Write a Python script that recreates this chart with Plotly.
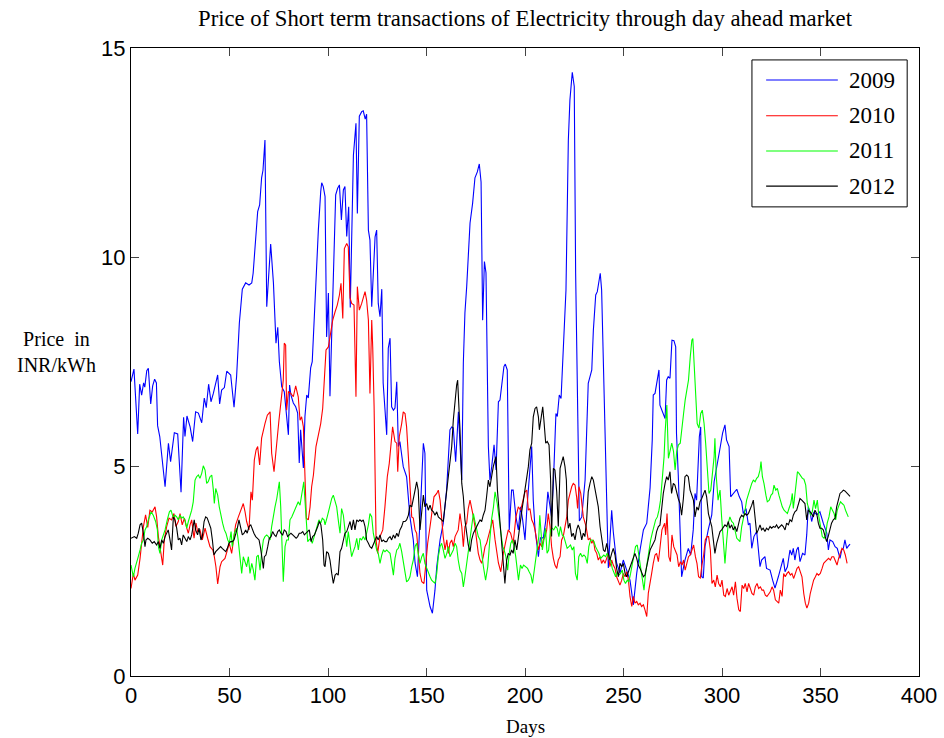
import plotly.graph_objects as go

# Day-ahead market price (INR/kWh) by day of year, one series per year
days_2009 = [0, 1.5, 3.4, 4.4, 5.4, 6.4, 7, 8, 8.8, 10, 11, 12, 12.9, 13.5, 14.6, 15.6, 16.9, 17.3, 19, 20.1,
             22, 23.7, 25.4, 26.7, 27.4, 28.4, 30, 31.3, 32.8, 34.2, 35.9, 37.2, 38.2, 39.4, 40.6, 41.8, 44, 45, 46, 47.4,
             48.6, 50.6, 52.3, 53.6, 55, 56.5, 58.2, 59.9, 61.3, 62, 64.3, 65.3, 66.3, 67, 68, 68.9, 70.9, 72.3, 73.6, 74.5,
             75.3, 76.5, 77.8, 78.7, 79.9, 80.5, 81.2, 82.4, 83.6, 84.6, 85.4, 86.1, 87.5, 88.3, 89.2, 90, 91.2, 92, 93.4, 95.1,
             96.3, 96.8, 97.6, 98.5, 99.3, 100.2, 101, 102.7, 103.9, 104.9, 105.8, 106.8, 107.8, 108.6, 109.5, 110.5, 111.3, 112.9, 114.2, 114.9,
             115.9, 117.1, 117.9, 118.9, 119.6, 120.5, 121.3, 122.2, 123.9, 124.7, 125.5, 126.4, 127.3, 128, 128.9, 129.8, 130.6, 131.5, 132.3, 133.2,
             134, 134.9, 135.7, 136.5, 138.2, 139.9, 141.6, 142.5, 143.3, 144.2, 145.4, 148.4, 149.2, 150.1, 151.8, 153, 154.3, 155.2, 156.9, 158.5,
             160.2, 161.9, 162.8, 163.6, 164.8, 166.2, 167, 167.9, 168.7, 169.5, 170.4, 172.1, 173.4, 174.6, 175.8, 176.8, 177.7, 178.5, 179.4, 180.2,
             181.4, 182.2, 183.1, 184.3, 185.3, 186.5, 187.3, 188.2, 189.3, 190, 191, 192, 193.2, 194, 195.4, 196.6, 197.8, 198.8, 200, 200.9,
             202.5, 203.4, 204.2, 205.1, 206.8, 207.8, 209.3, 210.5, 211.6, 212.7, 213.5, 214.4, 215, 215.7, 216.4, 217.4, 218.3, 219.5, 220.8, 222,
             222.8, 224, 225, 225.7, 227, 227.6, 228.8, 230.5, 232.1, 233.9, 234.7, 235.9, 236.7, 237.7, 238.2, 238.9, 239.8, 240.6, 241.5, 242.3,
             244, 244.8, 246.5, 248.2, 249.9, 251.6, 253.3, 255, 255.8, 256.7, 258.4, 260.1, 261.8, 263.5, 264.6, 265.1, 266, 266.8, 268, 268.5,
             269.9, 271.1, 271.9, 272.7, 273.6, 274.6, 275.6, 276.5, 276.9, 277.8, 279.5, 281.2, 282.9, 284.1, 285.4, 286.3, 287.1, 288, 288.5, 289.2,
             289.7, 290.5, 291.4, 293, 294.8, 296, 297.3, 299, 300.3, 301.5, 302.3, 303.6, 304.4, 305.8, 307.5, 308.8, 310, 310.8, 312.2, 313.4,
             314.2, 315.1, 316.2, 317.6, 318.4, 319.3, 320.1, 321.8, 322.6, 324.4, 325.7, 326.9, 328.6, 329.8, 331.1, 332, 333.2, 334.5, 335.4, 336.2,
             337, 337.9, 338.7, 339.6, 340.9, 342.1, 343, 343.8, 344.7, 345.5, 346.7, 348.1, 349.7, 351.4, 353.2, 354, 354.8, 356.2, 357.4, 358.5,
             359.9, 360.8, 361.6, 362.4, 363.3, 364.1, 365]
price_2009 = [7.03, 7.33, 5.78, 6.97, 6.71, 7.0, 6.9, 7.29, 7.35, 6.5, 6.93, 7.09, 7.0, 5.98, 5.72, 5.24, 4.7, 4.52, 5.56, 5.12,
              5.81, 5.78, 4.39, 6.18, 5.72, 6.21, 5.95, 5.6, 6.31, 6.28, 6.05, 6.64, 6.41, 6.97, 6.55, 6.75, 7.19, 6.5, 6.83, 6.89,
              7.28, 7.19, 6.42, 7.15, 8.43, 9.24, 9.39, 9.34, 9.39, 9.62, 11.09, 11.25, 11.9, 12.08, 12.8, 8.82, 10.32, 9.39, 7.95, 8.33,
              7.51, 6.91, 6.79, 6.31, 5.76, 6.95, 6.71, 6.52, 6.43, 6.28, 5.09, 5.88, 4.97, 6.2, 6.71, 6.64, 7.36, 7.51, 9.1, 10.65,
              11.57, 11.78, 11.69, 11.45, 8.1, 9.15, 6.68, 9.3, 11.49, 11.65, 11.73, 10.89, 11.61, 11.69, 10.5, 11.21, 8.8, 12.44, 13.2, 11.05,
              13.37, 13.48, 13.5, 13.3, 13.42, 10.65, 10.41, 8.82, 10.49, 10.65, 8.9, 8.58, 9.24, 7.0, 6.43, 5.76, 7.83, 8.07, 6.43, 6.35,
              6.4, 7.03, 5.48, 5.6, 5.0, 4.76, 3.8, 3.49, 3.25, 2.7, 2.37, 5.56, 5.32, 2.05, 1.66, 1.5, 2.05, 2.61, 3.25, 3.65,
              4.44, 5.88, 5.95, 5.93, 5.12, 6.31, 5.48, 4.68, 7.48, 8.67, 9.3, 10.82, 11.29, 11.9, 12.04, 12.23, 11.8, 8.5, 9.9, 9.63,
              5.48, 4.68, 5.0, 5.52, 4.92, 6.55, 6.59, 6.91, 7.39, 7.45, 7.31, 3.49, 4.44, 4.44, 3.8, 3.49, 4.04, 3.73, 3.25, 3.96,
              4.84, 5.48, 4.2, 3.5, 2.85, 3.3, 3.3, 3.7, 4.4, 4.0, 3.8, 4.6, 5.4, 6.27, 6.2, 6.71, 6.63, 7.86, 9.22, 12.8,
              13.76, 14.42, 14.08, 9.63, 4.68, 3.7, 3.8, 4.68, 6.99, 7.31, 8.26, 9.1, 9.18, 9.46, 9.62, 9.22, 7.47, 5.88, 4.68, 2.58,
              3.96, 3.45, 2.7, 2.46, 2.77, 2.53, 2.29, 1.7, 2.13, 2.45, 3.01, 3.49, 3.65, 4.5, 5.64, 6.71, 6.75, 6.99, 7.31, 6.47,
              6.27, 6.15, 7.07, 7.15, 7.11, 8.02, 8.01, 7.86, 5.8, 4.8, 2.37, 2.77, 3.05, 2.89, 3.49, 4.36, 4.2, 5.16, 5.72, 5.95,
              2.37, 2.34, 3.1, 3.49, 3.85, 4.64, 4.96, 5.44, 5.8, 6.0, 5.64, 5.48, 4.28, 4.36, 4.46, 4.28, 4.16, 3.88, 4.0, 3.61,
              3.65, 3.05, 3.33, 3.45, 3.09, 2.61, 2.77, 2.85, 2.57, 2.53, 2.29, 2.1, 2.37, 2.61, 2.81, 2.49, 2.61, 3.01, 2.89, 3.05,
              2.77, 3.01, 3.08, 2.73, 2.93, 2.89, 3.37, 4.04, 3.92, 3.69, 3.92, 3.85, 3.92, 3.65, 3.41, 3.01, 3.25, 3.21, 3.09, 3.05,
              2.81, 3.01, 3.05, 3.25, 3.05, 3.1, 3.15]

days_2010 = [0, 1.2, 2, 3.4, 4.6, 5.4, 6.3, 7.4, 8.5, 9.6, 10.8, 12.2, 13, 13.9, 15.1, 16.1, 16.9, 18.1, 19.3, 20.6,
             21.8, 22.8, 24, 24.9, 26, 27.1, 28.3, 29.1, 30, 30.8, 32, 33, 33.8, 35, 36.2, 37.6, 38.9, 40.1, 41.5, 42.3,
             43.1, 44, 45.2, 46, 47.7, 48.9, 49.9, 51.1, 51.9, 53.1, 54.5, 55.8, 57, 57.9, 58.7, 59.9, 60.9, 61.6, 62.6, 63.5,
             64.3, 65.3, 66.3, 68, 69.2, 70.6, 71.4, 72.6, 73.9, 75.1, 76.5, 77.3, 77.8, 78.5, 79, 79.9, 81.1, 82.4, 83.6, 84.9,
             85.8, 86.6, 87.5, 88.3, 89, 90, 90.9, 91.7, 92.6, 93.9, 95.1, 96.3, 97.3, 98, 99, 100.2, 101.4, 102.4, 103.6, 104.7,
             105.8, 106.6, 107.5, 108.3, 109.5, 110.3, 111.2, 112, 113.2, 114.2, 114.9, 115.9, 117.1, 117.9, 118.8, 119.6, 120.5, 121.3, 122.2, 122.7,
             123.4, 124.4, 125.2, 126.4, 127.8, 128.9, 130.1, 131.1, 132.8, 134, 134.9, 135.4, 136.2, 137.4, 138.2, 139.1, 139.9, 140.8, 141.6, 142.5,
             143.3, 144.2, 145, 145.8, 146.7, 147.6, 148.7, 149.7, 150.6, 151.8, 153, 153.8, 155.2, 156, 156.9, 157.7, 158.5, 159.4, 160.3, 161.1,
             161.9, 162.8, 163.6, 164.5, 165.3, 166.1, 167, 167.9, 168.7, 169.5, 170.4, 171.2, 172.1, 172.9, 173.8, 174.6, 175.5, 176.3, 177.2, 178,
             178.8, 179.7, 180.5, 181.4, 182.2, 183.6, 184.8, 186.5, 187.7, 189, 190.4, 191.5, 192.7, 194, 195.4, 196.6, 197.8, 198.8, 200, 200.9,
             201.7, 202.5, 203.4, 204.2, 205.1, 205.9, 206.8, 207.6, 208.5, 209.3, 210.2, 211, 211.8, 212.7, 213.5, 214.4, 215.2, 216.1, 216.9, 217.8,
             218.6, 219.4, 220.3, 221.2, 222, 222.8, 223.7, 224.5, 225.4, 226.2, 226.7, 227.4, 228.3, 229.6, 231, 232.1, 233, 233.9, 234.7, 235.5,
             236.4, 237.2, 238.1, 238.9, 239.8, 240.6, 241.5, 242.3, 243.1, 244, 244.8, 245.7, 246.5, 247.4, 248.2, 249.1, 249.9, 250.8, 251.6, 252.5,
             253.3, 254.2, 255, 255.8, 256.7, 257.5, 258.4, 259.2, 260.1, 260.9, 261.8, 262.6, 263.5, 264.3, 265.1, 266, 266.8, 267.7, 268.5, 269.5,
             270.9, 271.4, 272.1, 273, 273.8, 274.6, 275.5, 276.3, 277.2, 278, 278.9, 279.7, 280.5, 281.3, 282.1, 283, 283.9, 284.8, 285.6, 286.5,
             287.3, 288.1, 289, 289.8, 290.7, 291.5, 292.4, 293.2, 294.1, 294.9, 295.8, 296.6, 297.5, 298.3, 299.2, 300, 300.9, 301.7, 302.6, 303.4,
             304.2, 305.1, 305.9, 306.8, 307.6, 308.5, 309.3, 310.2, 311, 311.8, 312.7, 313.5, 314.4, 315.2, 316.1, 316.9, 317.8, 318.6, 319.5, 320.3,
             321.1, 322, 322.8, 323.7, 324.5, 325.4, 326.2, 327.1, 327.9, 328.8, 329.6, 330.5, 331.3, 332.1, 333, 333.8, 334.7, 335.5, 336.4, 337.2,
             338.1, 338.9, 339.8, 340.6, 341.5, 342.3, 343.1, 344, 344.8, 345.7, 346.5, 347.4, 348.2, 349, 349.9, 350.8, 351.6, 352.4, 353.3, 354.1,
             355, 355.8, 356.7, 357.5, 358.4, 359.2, 360.1, 360.9, 361.8, 362.6, 363.5]
price_2010 = [2.09, 2.45, 2.29, 2.41, 2.81, 3.17, 3.57, 3.85, 3.55, 3.96, 3.92, 4.04, 3.8, 3.33, 3.01, 2.65, 3.25, 3.57, 3.77, 3.73,
              3.88, 3.57, 3.69, 3.88, 3.61, 3.77, 3.53, 3.41, 3.61, 3.73, 3.29, 3.65, 3.45, 3.49, 3.25, 3.53, 3.29, 3.09, 3.01, 2.85,
              2.61, 2.2, 2.61, 2.73, 2.81, 3.01, 3.17, 2.93, 3.25, 3.61, 3.8, 3.96, 4.12, 3.92, 3.69, 3.49, 4.4, 4.2, 5.16, 5.4,
              5.48, 5.04, 5.68, 6.03, 6.23, 6.31, 5.32, 4.88, 5.56, 6.11, 6.71, 7.07, 7.95, 7.9, 6.35, 6.79, 6.75, 6.67, 6.93, 6.67,
              6.11, 6.19, 5.95, 4.68, 3.77, 3.73, 4.04, 4.52, 4.8, 5.48, 5.72, 6.03, 6.39, 7.07, 7.79, 7.86, 8.18, 8.5, 8.7, 8.86,
              9.1, 9.38, 8.54, 10.21, 10.33, 10.25, 9.03, 8.9, 8.86, 6.67, 9.3, 8.74, 8.9, 9.02, 9.18, 8.98, 8.5, 6.75, 8.5, 7.86,
              6.43, 3.25, 2.93, 3.33, 3.49, 4.04, 4.76, 5.08, 5.95, 5.6, 5.56, 4.88, 5.72, 6.03, 6.31, 6.27, 5.95, 5.24, 4.68, 3.8,
              3.77, 3.49, 3.41, 2.85, 2.45, 2.25, 2.21, 2.69, 3.17, 3.57, 4.04, 4.28, 4.36, 4.44, 4.2, 3.73, 3.33, 3.01, 3.25, 2.93,
              3.17, 3.25, 3.09, 3.33, 3.41, 3.49, 3.88, 3.57, 3.09, 3.57, 3.65, 4.0, 4.2, 4.04, 3.8, 3.57, 3.25, 2.93, 2.77, 2.69,
              2.85, 3.09, 3.17, 3.33, 3.49, 3.73, 3.25, 2.7, 2.49, 2.93, 3.25, 3.49, 3.41, 3.17, 3.8, 4.04, 3.96, 4.2, 4.4, 4.44,
              3.96, 4.0, 3.73, 3.65, 3.49, 3.25, 3.01, 3.17, 3.09, 3.25, 3.33, 3.49, 3.88, 3.57, 3.09, 2.81, 2.65, 2.57, 2.77, 2.85,
              3.25, 3.33, 3.57, 3.8, 4.2, 4.36, 4.52, 4.6, 4.56, 4.28, 4.0, 4.52, 4.36, 3.8, 3.57, 3.25, 3.29, 3.17, 3.25, 3.01,
              2.93, 2.77, 2.85, 2.69, 2.77, 2.69, 2.85, 2.93, 2.61, 2.77, 2.65, 2.57, 2.37, 2.25, 2.17, 2.29, 2.45, 2.37, 2.49, 2.29,
              1.9, 1.66, 1.9, 1.74, 1.78, 1.7, 1.74, 1.66, 1.7, 1.58, 1.42, 1.98, 2.29, 2.45, 2.69, 2.89, 2.93, 2.73, 3.05, 3.49,
              3.65, 3.37, 3.88, 2.85, 2.73, 3.37, 3.09, 3.01, 2.89, 2.61, 2.73, 2.65, 2.77, 2.53, 2.69, 2.85, 2.89, 3.01, 3.13, 2.85,
              2.69, 2.37, 2.34, 2.65, 2.89, 3.25, 3.33, 3.33, 3.01, 2.21, 2.29, 2.13, 2.41, 2.21, 2.13, 2.29, 1.93, 1.9, 2.09, 1.93,
              2.05, 2.13, 1.93, 2.25, 1.86, 1.58, 1.54, 2.17, 2.09, 2.21, 2.01, 2.21, 2.09, 1.97, 1.93, 2.13, 2.21, 2.09, 2.13, 2.05,
              2.05, 1.93, 1.9, 1.97, 2.01, 2.13, 2.05, 1.82, 1.78, 1.74, 2.05, 1.9, 2.45, 2.37, 2.45, 2.49, 2.41, 2.45, 2.33, 2.45,
              2.57, 2.61, 2.49, 2.37, 1.97, 1.74, 1.62, 1.74, 1.97, 2.13, 2.29, 2.37, 2.45, 2.41, 2.45, 2.57, 2.69, 2.73, 2.77, 2.81,
              2.77, 2.85, 2.85, 2.73, 2.65, 2.81, 2.97, 3.05, 3.01, 2.89, 2.69]

days_2011 = [0, 1.2, 2, 2.9, 3.7, 4.6, 5.4, 6.3, 7.1, 8, 8.8, 10.2, 11.3, 12.5, 13.4, 13.9, 14.7, 15.6, 16.4, 17.3,
             18.4, 19.5, 20.3, 21.5, 22.3, 23.2, 24, 24.9, 25.7, 26.5, 27.4, 28.3, 29.1, 30, 30.8, 31.6, 32.5, 33.3, 34.2, 35,
             35.9, 36.7, 37.6, 38.4, 39.2, 40.1, 41, 41.8, 42.3, 43, 44, 44.8, 45.7, 46.5, 47.4, 48.2, 49.1, 49.9, 50.8, 51.4,
             52.5, 53.6, 54.4, 55.3, 56.2, 57, 57.9, 58.7, 59.6, 60.4, 61.3, 62.1, 62.9, 63.8, 64.6, 65.5, 66.3, 67.2, 68, 68.9,
             69.7, 70.6, 71.4, 72.2, 73.1, 74, 74.8, 75.3, 76, 76.8, 77.3, 78.2, 79, 79.9, 80.7, 81.6, 82.4, 83.2, 84.1, 84.9,
             85.8, 86.3, 87, 87.7, 88.3, 88.8, 89.7, 90.4, 91.2, 92, 92.9, 93.7, 94.6, 95.4, 96.3, 97.1, 98, 98.5, 99.6, 100.7,
             101.9, 102.7, 103.6, 104.4, 105.2, 106.1, 106.9, 107.8, 108.6, 109.5, 110.3, 111.2, 112, 112.8, 113.7, 114.6, 115.4, 116.2, 117.1, 117.9,
             118.8, 119.6, 120.5, 121.3, 122.2, 123, 123.9, 124.7, 125.5, 126.4, 127.3, 128.1, 128.9, 129.8, 130.6, 131.5, 132.3, 133.2, 134, 134.9,
             135.7, 136.5, 137.4, 138.2, 139.1, 139.9, 140.8, 141.6, 142.5, 143.3, 144.2, 145, 145.8, 146.7, 147.6, 148.4, 149.2, 150.1, 150.9, 151.8,
             152.6, 153.5, 154.3, 155.2, 156, 156.9, 157.7, 158.5, 159.4, 160.3, 161.1, 161.9, 162.8, 163.6, 164.5, 165.3, 166.1, 167, 167.9, 168.7,
             169.5, 170.4, 171.2, 172.1, 172.9, 173.8, 174.6, 175.5, 176.3, 177.2, 178, 178.9, 180, 181.1, 182, 183, 184, 184.8, 185.9, 186.9,
             187.8, 188.7, 189.4, 190.3, 191.2, 192, 192.8, 193.6, 194.5, 195.3, 196.2, 196.7, 197.7, 198.5, 199.3, 200.5, 201.3, 202.1, 203, 203.8,
             204.6, 205.5, 206.3, 207, 207.5, 208.3, 208.8, 209.6, 210.4, 211.2, 212, 212.9, 213.8, 214.6, 215.5, 216.3, 217.2, 218, 218.9, 219.7,
             220.6, 221.4, 222.3, 223.1, 224, 224.8, 225.6, 226.5, 227.3, 228.2, 229, 229.9, 230.7, 231.6, 232.4, 233.3, 234.1, 235, 235.8, 236.7,
             237.5, 238.4, 239.2, 240, 240.9, 241.7, 242.6, 243.4, 244.3, 245.1, 246, 246.8, 247.7, 248.5, 249.4, 250.2, 251, 251.9, 252.7, 253.6,
             254.4, 255.3, 256.1, 257, 257.8, 258.7, 259.5, 260.4, 261.2, 262.1, 262.9, 263.8, 264.6, 265.5, 266.3, 267.2, 268, 268.8, 269.6, 270.2,
             270.6, 271.1, 272, 272.8, 273.7, 274.5, 275.4, 276.2, 277, 277.9, 278.8, 279.6, 280.5, 281.3, 282.2, 283, 283.9, 284.7, 285.2, 285.9,
             286.6, 287.4, 288.3, 289.2, 290, 290.9, 291.7, 292.6, 293.4, 294.3, 295.1, 296, 296.4, 297.1, 298, 299, 299.8, 300.7, 301.5, 302.4,
             303.2, 304, 304.9, 305.8, 306.6, 307.5, 308.3, 309.1, 310, 310.8, 311.7, 312.5, 313.4, 314.2, 315.1, 315.9, 316.8, 317.6, 318.4, 319.3,
             319.8, 320.5, 321.3, 322.3, 323, 324, 324.9, 325.7, 326.4, 327.3, 328.1, 328.9, 329.8, 330.6, 331.5, 332.3, 333.2, 334, 334.9, 335.7,
             336.2, 336.7, 337.6, 338.3, 339.1, 340, 340.8, 341.6, 342.5, 343.3, 344.2, 345, 345.8, 346.7, 347.5, 348.4, 349.2, 350.1, 350.9, 351.8,
             352.6, 353.4, 354.3, 355.2, 356, 356.9, 357.7, 358.5, 359.4, 360.2, 361, 361.9, 362.7, 363.6, 364.1]
price_2011 = [2.65, 2.37, 2.57, 2.69, 2.85, 3.01, 3.17, 3.25, 3.49, 3.57, 3.73, 3.92, 3.84, 3.69, 3.49, 3.09, 2.93, 3.25, 3.37, 3.49,
              3.73, 3.92, 3.96, 3.77, 3.84, 3.8, 3.73, 3.84, 3.77, 3.8, 3.73, 3.53, 3.69, 3.84, 3.96, 4.16, 4.68, 4.76, 4.8, 4.72,
              4.84, 5.02, 4.92, 4.6, 4.64, 4.76, 4.8, 4.44, 4.12, 4.48, 4.32, 4.04, 3.8, 3.65, 3.49, 3.41, 3.25, 3.17, 3.45, 3.09,
              3.41, 3.53, 3.25, 2.89, 2.45, 2.85, 2.69, 2.61, 2.85, 2.45, 2.69, 2.53, 2.29, 2.85, 2.89, 2.53, 2.93, 3.25, 3.33, 3.37,
              3.33, 3.25, 3.57, 3.84, 4.04, 4.24, 4.56, 4.64, 4.04, 3.09, 2.25, 3.09, 3.25, 3.25, 3.73, 3.8, 3.88, 4.0, 4.08, 4.16,
              4.08, 4.24, 4.44, 4.64, 4.2, 3.73, 3.21, 3.25, 3.29, 3.17, 3.33, 3.49, 3.65, 3.73, 3.65, 3.77, 3.73, 3.61, 3.8, 4.04,
              4.24, 4.32, 4.2, 4.04, 3.73, 3.41, 4.0, 3.84, 3.49, 3.09, 3.45, 3.09, 2.85, 2.97, 3.09, 3.29, 3.01, 3.29, 3.25, 3.33,
              3.25, 3.41, 3.61, 3.88, 3.8, 3.41, 3.17, 3.01, 2.93, 2.69, 2.89, 3.01, 2.97, 3.01, 2.97, 2.93, 2.69, 2.41, 2.81, 3.01,
              3.05, 3.17, 2.97, 2.73, 2.53, 2.25, 2.29, 2.37, 2.61, 2.77, 3.09, 3.17, 2.93, 2.69, 2.85, 2.93, 2.69, 2.57, 2.45, 2.37,
              2.29, 2.25, 2.21, 2.45, 2.85, 3.09, 3.17, 3.01, 2.81, 2.93, 3.09, 2.85, 2.93, 3.01, 3.17, 3.09, 2.77, 2.53, 2.45, 2.13,
              2.37, 2.69, 3.01, 3.33, 3.65, 3.88, 3.69, 3.49, 3.33, 3.25, 2.93, 2.61, 2.29, 2.61, 3.17, 3.73, 4.04, 4.4, 4.12, 3.8,
              3.41, 3.09, 3.01, 2.85, 2.53, 2.93, 3.17, 3.25, 3.09, 2.85, 2.53, 2.29, 2.65, 2.57, 2.65, 2.61, 2.57, 2.49, 2.41, 2.21,
              2.53, 2.77, 3.09, 3.33, 3.84, 3.33, 3.01, 3.25, 3.53, 2.93, 3.01, 3.49, 3.53, 3.49, 3.57, 3.53, 3.33, 3.57, 3.37, 3.33,
              3.17, 3.05, 3.09, 3.13, 3.01, 3.09, 2.45, 2.29, 2.85, 2.93, 2.85, 2.89, 2.85, 2.69, 3.09, 3.25, 3.25, 3.21, 3.09, 3.01,
              2.93, 2.81, 2.85, 2.89, 2.85, 2.93, 2.81, 2.77, 2.57, 2.45, 2.37, 2.49, 2.41, 2.45, 2.53, 2.29, 2.21, 2.29, 2.25, 2.45,
              2.69, 2.93, 3.09, 3.13, 2.85, 2.53, 2.37, 2.05, 2.45, 2.77, 3.01, 3.25, 3.41, 3.57, 3.73, 3.8, 3.96, 4.2, 4.68, 5.16,
              5.24, 5.8, 6.47, 5.2, 5.4, 5.56, 5.36, 4.92, 5.36, 5.52, 5.56, 5.95, 6.27, 6.59, 6.83, 7.07, 7.63, 8.02, 8.06, 7.39,
              6.75, 6.03, 5.92, 6.27, 6.35, 6.03, 5.56, 4.92, 4.36, 4.44, 4.76, 5.24, 5.68, 4.76, 4.2, 4.44, 3.8, 3.25, 2.69, 3.25,
              3.65, 3.8, 3.69, 3.65, 3.49, 3.29, 3.25, 3.21, 3.57, 3.73, 3.96, 4.2, 4.36, 4.44, 4.6, 4.68, 4.64, 4.72, 4.76, 4.92,
              5.12, 4.76, 4.6, 4.32, 4.16, 4.2, 4.32, 4.36, 4.56, 4.44, 4.48, 4.32, 4.16, 4.04, 3.96, 3.92, 3.88, 4.0, 4.12, 4.36,
              4.0, 4.2, 4.6, 4.88, 4.84, 4.76, 4.72, 4.7, 4.56, 4.12, 3.96, 3.84, 3.92, 4.2, 4.0, 4.2, 3.8, 3.49, 3.33, 3.29,
              3.37, 3.65, 3.8, 4.04, 3.96, 3.88, 3.73, 3.96, 4.08, 4.16, 4.12, 4.08, 3.96, 3.84, 3.8]

days_2012 = [0, 1.7, 2.9, 3.7, 4.6, 5.4, 6.3, 7.1, 7.6, 8.5, 9.6, 10.8, 11.8, 13, 13.9, 14.7, 15.6, 16.4, 17.3, 18.1,
             18.9, 19.8, 20.6, 21.5, 22.3, 23.2, 24, 24.9, 25.7, 26.5, 27.4, 28.3, 29.1, 30, 30.8, 31.6, 32.1, 32.8, 33.8, 34.5,
             35.5, 36.2, 37.1, 37.9, 38.7, 39.6, 40.5, 41.3, 42.1, 43, 43.8, 44.7, 45.5, 46.3, 47.2, 48.1, 48.9, 49.7, 50.6, 51.4,
             52.3, 53.1, 54, 54.8, 55.7, 56.5, 57.4, 58.2, 59, 59.9, 60.8, 61.6, 62.4, 63.3, 64.1, 65, 65.8, 66.3, 67.2, 67.7,
             68.5, 69.4, 70.2, 71.1, 71.9, 72.8, 73.6, 74.5, 75.3, 76.1, 77, 77.8, 78.7, 79.5, 80.4, 81.2, 82.1, 82.9, 83.8, 84.6,
             85.4, 86.3, 87.2, 88, 88.8, 89.7, 90.5, 91.4, 92.2, 93.1, 93.9, 94.8, 95.6, 96.4, 97.3, 98, 98.5, 99.3, 100.2, 101,
             101.9, 102.7, 103.6, 104.4, 105.2, 106.1, 106.9, 107.8, 108.6, 109.5, 110.3, 111.2, 112, 112.9, 113.7, 114.6, 115.4, 116.2, 117.1, 117.9,
             118.8, 119.6, 120.5, 121.3, 122.2, 123, 123.9, 124.7, 125.5, 126.4, 127.3, 128.1, 128.9, 129.8, 130.6, 131.5, 132.3, 133.2, 134, 134.9,
             135.7, 136.5, 137.4, 138.2, 139.1, 139.9, 140.8, 141.6, 142.5, 143.3, 144.2, 145, 145.8, 146.7, 147.6, 148.4, 149.2, 150.1, 150.9, 151.8,
             152.6, 153.5, 154.3, 155.2, 156, 156.9, 157.7, 158.5, 159.4, 160.3, 161.1, 161.9, 162.8, 163.6, 164.5, 165.3, 165.8, 166.5, 167, 167.9,
             168.7, 169.5, 170.4, 171.2, 172.1, 172.9, 173.8, 174.6, 175.5, 176.3, 177.2, 178, 178.8, 179.7, 180.5, 181.4, 182.2, 183.1, 183.9, 184.8,
             185.3, 186, 186.5, 187.3, 188.2, 189, 189.8, 190.7, 191.5, 192.4, 193.2, 194, 194.9, 195.8, 196.6, 197.5, 198.3, 199.2, 200, 200.9,
             201.7, 202.5, 203.4, 204.2, 205.1, 205.9, 206.8, 207.3, 208.1, 209, 209.6, 210.5, 211.3, 212.2, 213, 213.5, 214.4, 215.2, 216.1, 216.9,
             217.8, 218.6, 219.4, 220.3, 221, 221.5, 222, 222.8, 223.7, 224.5, 225.4, 226.2, 227, 227.9, 228.8, 229.6, 230.4, 231.3, 232.1, 233,
             233.9, 234.7, 235.5, 236.4, 237.2, 238.1, 238.9, 239.8, 240.6, 241.5, 242.3, 243.1, 244, 244.8, 245.7, 246.5, 247.4, 248.2, 249.1, 249.9,
             250.8, 251.6, 252.5, 253.3, 254.2, 255, 255.8, 256.7, 257.5, 258.4, 259.2, 260.1, 260.9, 261.8, 262.6, 263.5, 264.3, 265.1, 266, 266.8,
             267.7, 268.5, 269.4, 270.2, 271.1, 271.9, 272.7, 273.6, 274.4, 275.3, 276.1, 276.9, 277.8, 278.7, 279.5, 280.4, 281.2, 282.1, 282.9, 283.8,
             284.6, 285.5, 286.3, 287.2, 288, 288.8, 289.7, 290.5, 291.4, 292.2, 293.1, 293.9, 294.8, 295.6, 296.4, 297.3, 298.1, 299, 299.8, 300.7,
             301.5, 302.4, 303.2, 304, 304.9, 305.7, 306.6, 307.5, 308.3, 309.1, 310, 310.8, 311.7, 312.5, 313.4, 314.2, 315.1, 315.9, 316.8, 317.6,
             318.4, 319.3, 320.1, 320.9, 321.8, 322.6, 323.5, 324.4, 325.2, 326.1, 326.9, 327.7, 328.6, 329.4, 330.3, 331.1, 332, 332.8, 333.7, 334.5,
             335.4, 336.2, 337, 337.9, 338.7, 339.6, 340.5, 341.3, 342.1, 343, 343.8, 344.7, 345.5, 346.4, 347.2, 348.1, 348.9, 349.7, 350.6, 351.4,
             352.3, 353.1, 353.9, 354.8, 355.6, 356.5, 357.4, 358.2, 359, 359.9, 360.8, 361.6, 362.4, 363.3, 364.1, 365]
price_2012 = [3.29, 3.33, 3.29, 3.41, 3.61, 3.65, 3.41, 3.09, 3.25, 3.29, 3.25, 3.17, 3.21, 3.13, 3.21, 3.05, 3.25, 3.17, 3.33, 3.41,
              3.49, 3.25, 3.01, 3.8, 3.73, 3.53, 3.25, 3.29, 3.13, 3.37, 3.29, 3.21, 3.33, 3.25, 3.37, 3.65, 3.73, 3.49, 3.37, 3.53,
              3.25, 3.33, 3.69, 3.8, 3.77, 3.65, 3.53, 3.25, 2.89, 2.97, 3.01, 3.05, 3.09, 3.05, 3.01, 2.97, 3.05, 3.17, 3.21, 3.21,
              3.25, 3.37, 3.53, 3.73, 3.49, 3.37, 3.41, 3.49, 3.41, 3.57, 3.61, 3.49, 3.41, 3.33, 3.29, 3.25, 3.05, 2.89, 2.57, 2.85,
              2.89, 3.09, 3.29, 3.33, 3.45, 3.37, 3.33, 3.45, 3.49, 3.41, 3.37, 3.49, 3.45, 3.33, 3.37, 3.41, 3.37, 3.33, 3.29, 3.33,
              3.41, 3.41, 3.45, 3.37, 3.41, 3.45, 3.49, 3.21, 3.33, 3.37, 3.45, 3.57, 3.69, 3.61, 3.25, 2.65, 2.61, 2.97, 2.93, 2.77,
              2.45, 2.21, 2.41, 2.45, 2.41, 2.97, 3.05, 3.21, 3.41, 3.45, 3.57, 3.69, 3.49, 3.73, 3.49, 3.73, 3.69, 3.73, 3.69, 3.73,
              3.57, 3.25, 3.17, 3.09, 3.05, 3.13, 3.25, 3.33, 3.25, 3.37, 3.21, 3.25, 3.21, 3.21, 3.29, 3.33, 3.25, 3.37, 3.29, 3.41,
              3.33, 3.49, 3.57, 3.69, 3.69, 3.73, 3.84, 4.08, 4.04, 4.28, 4.44, 4.64, 4.44, 3.49, 3.96, 4.32, 4.04, 4.12, 3.96, 4.08,
              3.96, 3.92, 3.84, 3.92, 3.8, 3.77, 3.73, 3.69, 4.04, 4.44, 4.84, 5.16, 5.48, 6.11, 6.59, 6.95, 7.07, 6.43, 5.88, 4.6,
              4.28, 3.73, 3.41, 3.13, 2.97, 3.25, 3.41, 3.49, 3.61, 3.65, 3.73, 3.69, 3.84, 3.96, 4.28, 4.68, 4.52, 4.84, 5.0, 5.16,
              5.24, 4.44, 4.12, 3.65, 3.09, 2.61, 2.21, 2.77, 2.93, 2.89, 3.01, 2.93, 3.25, 3.01, 3.33, 3.65, 3.92, 4.2, 4.44, 4.76,
              5.0, 5.4, 5.56, 6.19, 6.39, 6.43, 6.19, 5.88, 6.19, 6.43, 6.11, 5.56, 5.6, 5.52, 4.68, 3.33, 4.96, 4.92, 4.4, 3.57,
              4.96, 5.08, 5.24, 5.0, 4.68, 3.8, 3.53, 3.65, 3.33, 3.41, 3.25, 3.49, 3.61, 3.49, 3.25, 3.41, 3.33, 3.73, 4.4, 4.6,
              4.76, 4.68, 4.44, 4.2, 4.04, 3.57, 3.25, 3.01, 2.97, 3.17, 2.93, 2.77, 2.93, 3.05, 2.89, 2.57, 2.37, 2.69, 2.61, 2.69,
              2.45, 2.37, 2.49, 2.61, 2.73, 2.85, 2.93, 2.81, 2.65, 2.57, 2.45, 2.37, 2.41, 2.61, 2.77, 3.01, 3.09, 3.17, 3.25, 3.45,
              3.57, 3.6, 4.04, 4.36, 4.6, 4.76, 4.68, 4.88, 4.36, 4.6, 4.56, 4.4, 4.24, 4.12, 3.84, 4.24, 4.76, 4.8, 4.76, 4.44,
              4.32, 4.2, 3.8, 4.04, 3.96, 4.16, 4.24, 4.36, 4.44, 4.28, 3.88, 3.73, 3.57, 3.25, 2.93, 3.17, 3.33, 3.45, 3.49, 3.57,
              3.61, 3.57, 3.69, 3.53, 3.61, 3.49, 3.57, 3.45, 3.65, 3.77, 3.84, 3.8, 3.88, 3.84, 3.88, 3.96, 4.08, 4.2, 3.8, 3.41,
              3.49, 3.61, 3.49, 3.53, 3.45, 3.53, 3.49, 3.57, 3.53, 3.57, 3.55, 3.61, 3.53, 3.57, 3.61, 3.57, 3.49, 3.65, 3.61, 3.73,
              3.69, 3.84, 3.92, 3.96, 4.12, 4.24, 4.2, 4.16, 4.12, 3.73, 3.96, 3.92, 3.88, 3.8, 3.96, 3.88, 3.65, 3.53, 3.53, 3.49,
              3.37, 3.21, 3.33, 3.49, 3.65, 3.73, 3.77, 4.04, 4.2, 4.36, 4.4, 4.44, 4.42, 4.37, 4.33, 4.29]

years = ["2009", "2010", "2011", "2012"]
series_days = [days_2009, days_2010, days_2011, days_2012]
series_price = [price_2009, price_2010, price_2011, price_2012]
colors = ["#0000FF", "#FF0000", "#00FF00", "#000000"]

x_ticks = [0, 50, 100, 150, 200, 250, 300, 350, 400]
y_ticks = [0, 5, 10, 15]

SERIF = "Liberation Serif, Times New Roman, serif"
SANS = "Liberation Sans, Arial, sans-serif"

fig = go.Figure()
for name, xs, ys, col in zip(years, series_days, series_price, colors):
    fig.add_trace(go.Scatter(x=xs, y=ys, mode="lines", name=name,
                             line=dict(color=col, width=1.1), showlegend=False))

axis_common = dict(showline=True, linecolor="black", linewidth=1, mirror="ticks",
                   ticks="inside", ticklen=8, tickcolor="#444", tickwidth=1,
                   showgrid=False, zeroline=False, automargin=False,
                   tickfont=dict(family=SANS, size=22, color="black"))
fig.update_xaxes(range=[0, 400], tickvals=x_ticks, ticktext=[str(v) for v in x_ticks], **axis_common)
fig.update_yaxes(range=[0, 15], tickvals=y_ticks, ticktext=[str(v) for v in y_ticks], **axis_common)

# Boxed legend in the upper right corner
lx0, lx1, ly0, ly1 = 0.788, 0.985, 0.747, 0.981
shapes = [dict(type="rect", xref="paper", yref="paper", x0=lx0, x1=lx1, y0=ly0, y1=ly1,
               line=dict(color="black", width=1), fillcolor="white", layer="above")]
annotations = []
row_y = [0.949, 0.892, 0.836, 0.780]
for name, col, ry in zip(years, colors, row_y):
    shapes.append(dict(type="line", xref="paper", yref="paper", x0=0.806, x1=0.897, y0=ry, y1=ry,
                       line=dict(color=col, width=1.1), layer="above"))
    annotations.append(dict(text=name, xref="paper", yref="paper", x=0.908, y=ry,
                            xanchor="left", yanchor="middle", showarrow=False,
                            font=dict(family=SERIF, size=23, color="black")))

annotations.append(dict(text="Days", xref="paper", yref="paper", x=0.5, y=-0.081,
                        xanchor="center", yanchor="middle", showarrow=False,
                        font=dict(family=SERIF, size=19, color="black")))
annotations.append(dict(text="Price  in<br>INR/kWh", xref="paper", yref="paper", x=-0.094, y=0.516,
                        xanchor="center", yanchor="middle", showarrow=False, align="center",
                        font=dict(family=SERIF, size=20, color="black")))

fig.update_layout(
    width=944, height=738,
    margin=dict(l=131, r=25, t=48, b=62),
    paper_bgcolor="white", plot_bgcolor="white",
    title=dict(text="Price of Short term transactions of Electricity through day ahead market",
               x=0.5, xref="paper", y=1 - 18 / 738, yref="container", xanchor="center", yanchor="middle",
               font=dict(family=SERIF, size=22.7, color="black")),
    shapes=shapes, annotations=annotations,
)

fig.write_html("out.html")
